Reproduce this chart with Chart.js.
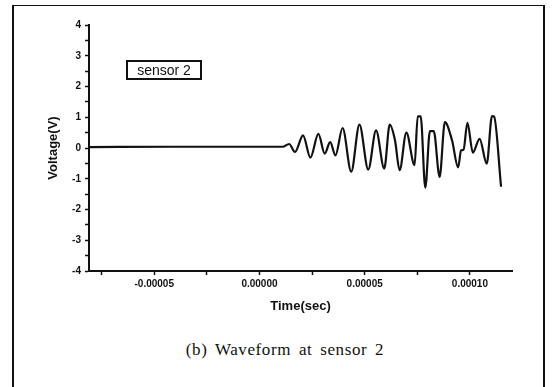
<!DOCTYPE html>
<html>
<head>
<meta charset="utf-8">
<script src="https://cdn.jsdelivr.net/npm/chart.js@4.4.0/dist/chart.umd.min.js"></script>
<style>
  body { margin: 0; background: #fff; width: 554px; height: 387px; overflow: hidden; position: relative; }
  #frame { position: absolute; left: 12px; top: 5px; width: 529px; height: 420px;
           border-left: 2px solid #111; border-top: 1px solid #111; border-right: 2px solid #111; }
  #wrap { position: absolute; left: 0; top: 0; width: 554px; height: 320px; }
  #legendBox { position: absolute; left: 126px; top: 60px; width: 72px; height: 16px;
               border: 2px solid #111; font: 14px "Liberation Sans", Arial, sans-serif;
               text-align: center; line-height: 16px; color: #111; }
  #caption { position: absolute; left: 0; width: 570px; top: 340px; text-align: center;
             font: 17px "Liberation Serif", "DejaVu Serif", serif; color: #111;
             letter-spacing: 0.6px; word-spacing: 3px; }
</style>
</head>
<body>
<div id="frame"></div>
<div id="wrap"><canvas id="waveChart"></canvas></div>
<div id="legendBox">sensor 2</div>
<div id="caption">(b) Waveform at sensor 2</div>
<script>
// time (sec) and voltage (V)
const timeValues = [
  -8.1e-5, -4e-5, 0, 1.1e-5, 1.41e-5, 1.69e-5, 2.07e-5, 2.42e-5, 2.80e-5, 3.10e-5,
  3.36e-5, 3.61e-5, 3.95e-5, 4.36e-5, 4.75e-5, 5.17e-5, 5.54e-5, 5.93e-5, 6.19e-5, 6.44e-5,
  6.66e-5, 6.98e-5, 7.37e-5, 7.52e-5, 7.66e-5, 7.88e-5, 8.10e-5, 8.28e-5, 8.56e-5, 8.81e-5,
  9.15e-5, 9.44e-5, 9.58e-5, 9.70e-5, 9.88e-5, 1.014e-4, 1.046e-4, 1.080e-4, 1.105e-4, 1.115e-4,
  1.148e-4
];
const voltageValues = [
  0.03, 0.04, 0.04, 0.04, 0.13, -0.13, 0.41, -0.31, 0.46, -0.18,
  0.19, -0.24, 0.65, -0.77, 0.76, -0.70, 0.57, -0.67, 0.76, 0.25,
  -0.72, 0.50, -0.56, 1.03, 1.03, -1.29, 0.55, 0.55, -0.94, 0.84,
  0.25, -0.63, -0.08, -0.05, 0.82, -0.15, 0.30, -0.51, 1.04, 1.02,
  -1.26
];
const xTicks = [-7.5e-5, -5e-5, -2.5e-5, 0, 2.5e-5, 5e-5, 7.5e-5, 1e-4];
const xLabels = ['', '-0.00005', '', '0.00000', '', '0.00005', '', '0.00010'];
const yTicks = [-4, -3.5, -3, -2.5, -2, -1.5, -1, -0.5, 0, 0.5, 1, 1.5, 2, 2.5, 3, 3.5, 4];
const yLabels = ['-4', '', '-3', '', '-2', '', '-1', '', '0', '', '1', '', '2', '', '3', '', '4'];

const points = timeValues.map((t, i) => ({x: t, y: voltageValues[i]}));

const tickFont = {family: 'Liberation Sans', size: 10, weight: 'bold'};
const titleFont = {family: 'Liberation Sans', size: 13, weight: 'bold'};

const config = {
  type: 'line',
  data: {
    datasets: [{
      label: 'sensor 2',
      data: points,
      borderColor: '#111',
      borderWidth: 2.2,
      pointRadius: 0,
      cubicInterpolationMode: 'monotone',
      fill: false,
    }],
  },
  options: {
    responsive: true,
    maintainAspectRatio: false,
    animation: false,
    layout: { padding: {left: 0, right: 42, top: 25, bottom: 0} },
    plugins: { legend: {display: false}, tooltip: {enabled: false} },
    scales: {
      x: {
        type: 'linear',
        min: -8.1e-5,
        max: 1.2e-4,
        afterBuildTicks: (scale) => { scale.ticks = xTicks.map(v => ({value: v})); },
        afterFit: (scale) => { scale.height = 49; },
        grid: { drawOnChartArea: false, tickLength: 4, tickWidth: 1.5, tickColor: '#111' },
        border: { display: true, color: '#111', width: 2 },
        ticks: {
          color: '#111', font: tickFont, padding: 3, maxRotation: 0, autoSkip: false,
          callback: (v, i) => xLabels[i],
        },
        title: { display: true, text: 'Time(sec)', color: '#111', font: titleFont, padding: 6 },
      },
      y: {
        min: -4,
        max: 4,
        afterBuildTicks: (scale) => { scale.ticks = yTicks.map(v => ({value: v})); },
        afterFit: (scale) => { scale.width = 89; },
        grid: { drawOnChartArea: false, tickLength: 4, tickWidth: 1.5, tickColor: '#111' },
        border: { display: true, color: '#111', width: 2 },
        ticks: {
          color: '#111', font: tickFont, padding: 4, autoSkip: false,
          callback: (v, i) => yLabels[i],
        },
        title: { display: true, text: 'Voltage(V)', color: '#111', font: titleFont, padding: 46 },
      },
    },
  },
};

var waveChart = new Chart(document.getElementById('waveChart'), config);
</script>
</body>
</html>
